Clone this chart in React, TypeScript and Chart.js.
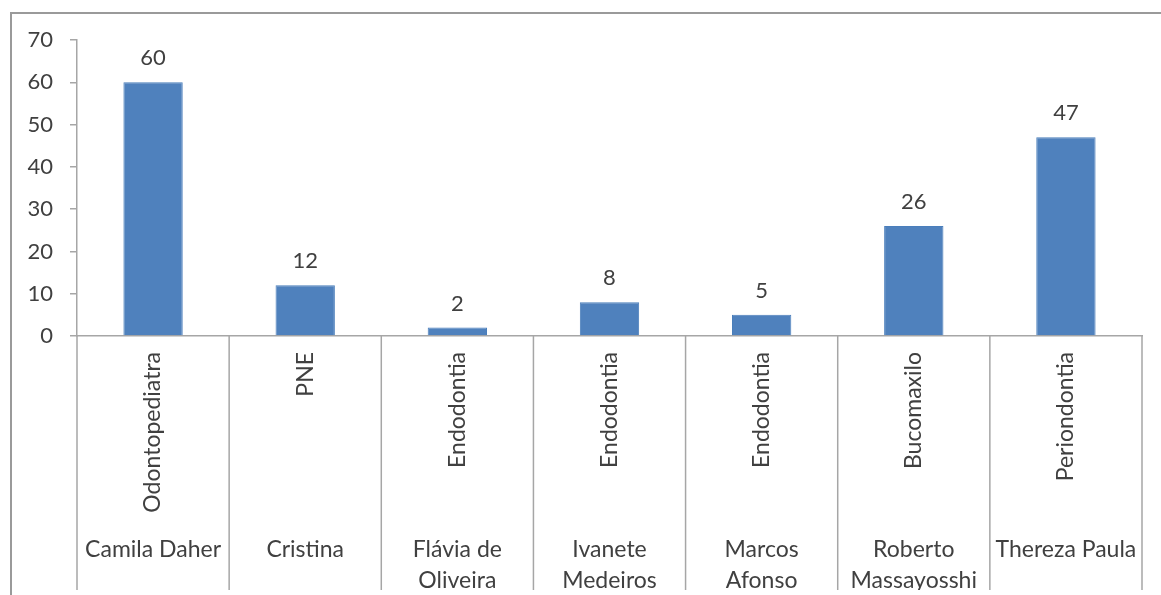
import React, { useEffect, useRef } from "react";
import { Chart, registerables } from "chart.js";

Chart.register(...registerables);

const specialties = ["Odontopediatra", "PNE", "Endodontia", "Endodontia", "Endodontia", "Bucomaxilo", "Periondontia"];
const names = [["Camila Daher"], ["Cristina"], ["Flávia de", "Oliveira"], ["Ivanete", "Medeiros"], ["Marcos", "Afonso"], ["Roberto", "Massayosshi"], ["Thereza Paula"]];
const values = [60, 12, 2, 8, 5, 26, 47];
const yMax = 70;
const yStep = 10;

const FONT = "Lato, 'Open Sans', sans-serif";
const TEXT = "#404040";
const LINE = "#a6a6a6";

const dividers = {
  id: "dividers",
  afterDraw(chart: any) {
    const x = chart.scales.x;
    const x2 = chart.scales.x2;
    const y = chart.scales.y;
    const ctx = chart.ctx;
    const n = specialties.length;
    const half = (x.getPixelForValue(1) - x.getPixelForValue(0)) / 2;
    const y0 = y.getPixelForValue(0);
    ctx.save();
    ctx.strokeStyle = LINE;
    ctx.lineWidth = 1.5;
    for (let i = 0; i <= n; i++) {
      const px = i < n ? x.getPixelForValue(i) - half : x.getPixelForValue(n - 1) + half;
      ctx.beginPath();
      ctx.moveTo(px, y0);
      ctx.lineTo(px, x2.bottom);
      ctx.stroke();
    }
    ctx.restore();
  },
};

const valueLabels = {
  id: "valueLabels",
  afterDatasetsDraw(chart: any) {
    const ctx = chart.ctx;
    const meta = chart.getDatasetMeta(0);
    ctx.save();
    ctx.font = `22px ${FONT}`;
    ctx.fillStyle = TEXT;
    ctx.textAlign = "center";
    ctx.textBaseline = "middle";
    meta.data.forEach((bar: any, i: number) => {
      ctx.fillText(String(values[i]), bar.x, bar.y - 24);
    });
    ctx.restore();
  },
};

export default function App() {
  const ref = useRef<HTMLCanvasElement>(null);
  useEffect(() => {
    if (!ref.current) return;
    const chart = new Chart(ref.current, {
      type: "bar",
      data: {
        labels: specialties,
        datasets: [
          {
            data: values,
            backgroundColor: "#4F81BD",
            borderColor: "#4A7EBB",
            borderWidth: 1,
            categoryPercentage: 1,
            barPercentage: 0.39,
            xAxisID: "x",
            yAxisID: "y",
          },
        ],
      },
      options: {
        responsive: false,
        animation: false,
        devicePixelRatio: 1,
        layout: { padding: { top: 40, right: 19, bottom: 5, left: 0 } },
        plugins: { legend: { display: false }, tooltip: { enabled: false } },
        scales: {
          x: {
            type: "category",
            position: "bottom",
            grid: { display: false },
            border: { display: true, color: LINE, width: 1.5 },
            ticks: {
              autoSkip: false,
              minRotation: 90,
              maxRotation: 90,
              padding: 8,
              color: TEXT,
              font: { size: 23, family: FONT },
            },
            afterFit(s: any) {
              s.height = 190;
            },
          },
          x2: {
            type: "category",
            position: "bottom",
            labels: names as any,
            offset: true,
            grid: { display: false },
            border: { display: false },
            ticks: {
              autoSkip: false,
              maxRotation: 0,
              minRotation: 0,
              padding: 0,
              color: TEXT,
              font: { size: 23, family: FONT, lineHeight: 1.35 },
            },
            afterFit(s: any) {
              s.height = 64;
            },
          },
          y: {
            min: 0,
            max: yMax,
            grid: { drawOnChartArea: false, tickLength: 7, color: LINE, lineWidth: 1.5 },
            border: { display: true, color: LINE, width: 1.5 },
            ticks: {
              stepSize: yStep,
              padding: 17,
              color: TEXT,
              font: { size: 22, family: FONT },
            },
            afterFit(s: any) {
              s.width = 77;
            },
          },
        },
      },
      plugins: [dividers, valueLabels],
    });
    return () => chart.destroy();
  }, []);

  return (
    <div style={{ position: "absolute", left: 0, top: 0, width: 1161, height: 595, background: "#fff", overflow: "hidden" }}>
      <canvas ref={ref} width={1161} height={595} style={{ position: "absolute", left: 0, top: 0 }} />
      <div
        style={{
          position: "absolute",
          left: 10,
          top: 12,
          width: 1200,
          height: 700,
          border: "2px solid #9a9a9a",
          boxSizing: "border-box",
          pointerEvents: "none",
        }}
      />
    </div>
  );
}
